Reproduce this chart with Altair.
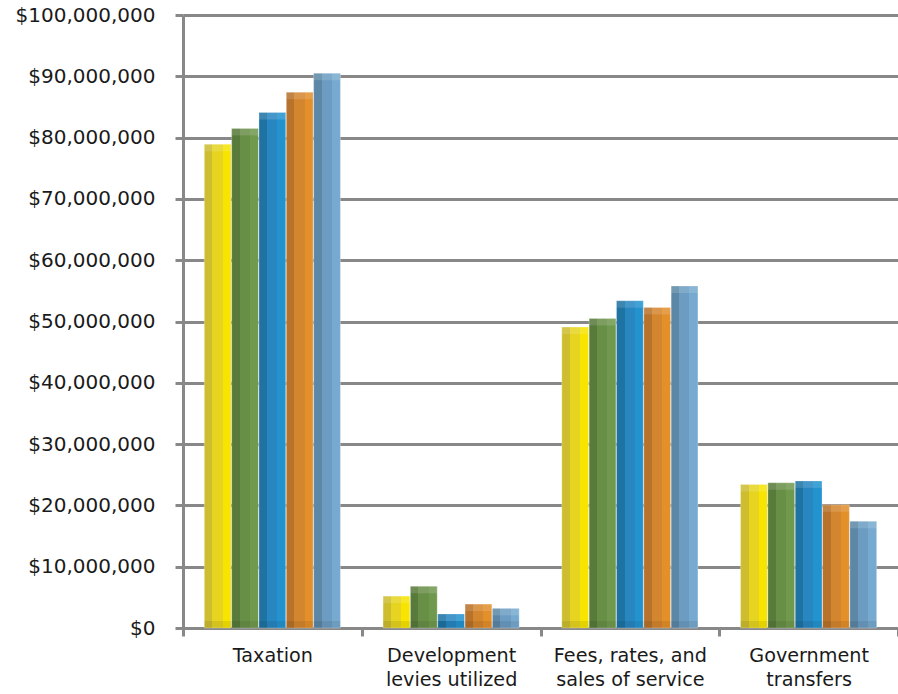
import json
import altair as alt
import pandas as pd

categories = ["Taxation", "Development levies utilized",
              "Fees, rates, and sales of service", "Government transfers"]
label_lines = [["Taxation"], ["Development", "levies utilized"],
               ["Fees, rates, and", "sales of service"], ["Government", "transfers"]]
series = ["Series 1", "Series 2", "Series 3", "Series 4", "Series 5"]

# values in millions of dollars
s1 = [78.9, 5.2, 49.1, 23.4]
s2 = [81.5, 6.8, 50.5, 23.7]
s3 = [84.1, 2.3, 53.4, 24.0]
s4 = [87.4, 3.9, 52.3, 20.1]
s5 = [90.5, 3.2, 55.8, 17.4]
all_vals = [s1, s2, s3, s4, s5]

left_colors = ["#cdbd2f", "#587a3a", "#1e73a3", "#b7722b", "#5c87a6"]
mid_colors = ["#e6d420", "#688f46", "#2886c0", "#d4862e", "#6c9cc2"]
right_colors = ["#f7e400", "#70994e", "#2393d0", "#e38f2a", "#77aad0"]

y_ticks = list(range(0, 100_000_001, 10_000_000))

rows = []
for name, vals in zip(series, all_vals):
    for c, v in zip(categories, vals):
        rows.append({"category": c, "series": name, "value": v * 1e6})
df = pd.DataFrame(rows)

expr = "''"
for c, lines in reversed(list(zip(categories, label_lines))):
    expr = f"datum.value == {json.dumps(c)} ? {json.dumps(lines)} : ({expr})"

x_enc = alt.X("category:N", sort=categories,
              scale=alt.Scale(paddingInner=0, paddingOuter=0),
              axis=alt.Axis(title=None, labelAngle=0, labelExpr=expr,
                            tickBand="extent", tickSize=8, labelPadding=10,
                            labelFontSize=19.2,
                            labelLineHeight=24, labelBaseline="top", grid=False))
xo_enc = alt.XOffset("series:N", sort=series,
                     scale=alt.Scale(domain=series, paddingInner=0.02, paddingOuter=0.78))
y_enc = alt.Y("value:Q", scale=alt.Scale(domain=[0, 100_000_000], nice=False),
              axis=alt.Axis(title=None, values=y_ticks, format="$,.0f", grid=True,
                            labelFontSize=20,
                            tickSize=8, labelPadding=20))

base = alt.Chart(df)
layers = []
for i, name in enumerate(series):
    L, M, R = left_colors[i], mid_colors[i], right_colors[i]
    grad = alt.LinearGradient(
        gradient="linear", x1=0, x2=1, y1=0, y2=0,
        stops=[alt.GradientStop(offset=0, color=L), alt.GradientStop(offset=0.3, color=L),
               alt.GradientStop(offset=0.3, color=M), alt.GradientStop(offset=0.68, color=M),
               alt.GradientStop(offset=0.68, color=R), alt.GradientStop(offset=1, color=R)])
    layers.append(
        base.transform_filter(alt.datum.series == name)
        .mark_bar(color=grad, stroke="#ffffff", strokeOpacity=0.35, strokeWidth=0.8)
        .encode(x=x_enc, xOffset=xo_enc, y=y_enc)
    )

top_cap = base.mark_bar(color="#ffffff", opacity=0.14, y2Offset=7).encode(
    x=x_enc, xOffset=xo_enc, y=y_enc, y2=alt.Y2("value:Q"))
bottom_cap = base.transform_calculate(zero="0").mark_bar(
    color="#000000", opacity=0.08, y2Offset=-7).encode(
    x=x_enc, xOffset=xo_enc, y=alt.Y("zero:Q"), y2=alt.Y2("zero:Q"))

chart = alt.layer(*layers, top_cap, bottom_cap).properties(
    width=715, height=613,
    autosize=alt.AutoSizeParams(type="none"),
    padding={"left": 183, "top": 15, "right": 0, "bottom": 66},
).configure_view(stroke=None).configure_axis(
    domainColor="#888888", domainWidth=3,
    gridColor="#888888", gridWidth=3,
    tickColor="#888888", tickWidth=3,
    labelFont="DejaVu Sans", labelColor="#1a1a1a",
)

chart.save("out.html", embed_options={"renderer": "svg", "actions": False})
